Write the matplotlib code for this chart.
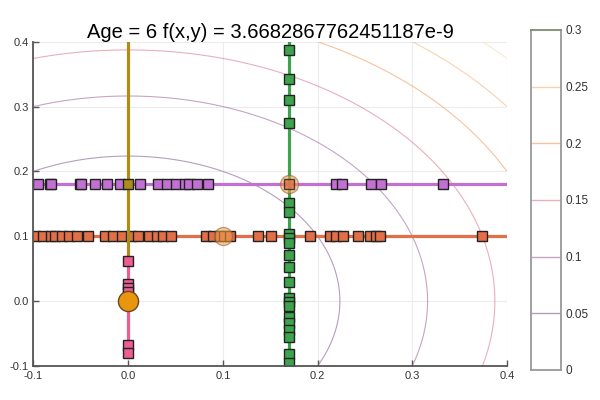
import numpy as np
import matplotlib.pyplot as plt
from matplotlib.ticker import FormatStrFormatter

plt.rcParams['font.family'] = ['Liberation Sans', 'DejaVu Sans']
plt.rcParams['axes.unicode_minus'] = False

title = "Age = 6 f(x,y) = 3.6682867762451187e-9"

# contour levels and their colours (colorbar)
levels = [0.05, 0.1, 0.15, 0.2, 0.25, 0.3]
level_colors = ['#8a5a96', '#a0689c', '#dc7a8c', '#f09a60', '#f4b47c', '#f4dcb0']

# search lines: (fixed coordinate, start, end)
orange_y = 0.1
orange_span = [-0.1, 0.4]
orange_x = [-0.098, -0.090, -0.082, -0.077, -0.070, -0.063, -0.054, -0.042,
            -0.024, -0.016, -0.006, 0.003, 0.010, 0.022, 0.030, 0.037, 0.045,
            0.082, 0.090, 0.097, 0.101, 0.108, 0.137, 0.151, 0.192, 0.213,
            0.219, 0.227, 0.243, 0.255, 0.262, 0.266, 0.374]

purple_y = 0.18
purple_span = [-0.1, 0.4]
purple_x = [-0.095, -0.083, -0.081, -0.051, -0.050, -0.035, -0.022, -0.009,
            0.013, 0.032, 0.041, 0.050, 0.060, 0.064, 0.073, 0.084,
            0.219, 0.226, 0.256, 0.267, 0.333]

green_x = 0.17
green_span = [-0.1, 0.4]
green_y = [0.387, 0.342, 0.310, 0.274, 0.151, 0.138, 0.103, 0.098, 0.090,
           0.071, 0.052, 0.030, 0.005, -0.001, -0.008, -0.024, -0.033,
           -0.045, -0.056, -0.081, -0.095]

gold_x = 0.0
gold_span = [0.068, 0.4]
gold_y = [0.18]

pink_x = 0.0
pink_span = [-0.086, 0.064]
pink_y = [0.062, 0.027, 0.020, 0.014, 0.0, -0.005, -0.068, -0.080]

# current points
best_pt = (0.0, 0.0)
old_pts_x = [0.1, 0.17]
old_pts_y = [0.1, 0.18]
red_sq = (0.17, 0.18)

fig = plt.figure(figsize=(6, 4), dpi=100)
ax = fig.add_axes([0.0558, 0.085, 0.789, 0.8108])

gx = np.linspace(-0.1, 0.4, 300)
gy = np.linspace(-0.1, 0.4, 300)
GX, GY = np.meshgrid(gx, gy)
GZ = GX**2 + GY**2
ax.contour(GX, GY, GZ, levels=levels, colors=level_colors, linewidths=0.8, alpha=0.6)

sq = dict(marker='s', markersize=6.8, markeredgecolor='#222222', markeredgewidth=1.0, linestyle='none')

ax.plot(orange_span, [orange_y, orange_y], color='#e26f46', lw=2.3)
ax.plot(orange_x, [orange_y] * len(orange_x), color='#e26f46', **sq)

ax.plot(purple_span, [purple_y, purple_y], color='#c271d2', lw=2.3)
ax.plot(purple_x, [purple_y] * len(purple_x), color='#c271d2', **sq)

ax.plot([green_x, green_x], green_span, color='#3da44d', lw=2.3)
ax.plot([green_x] * len(green_y), green_y, color='#3da44d', **sq)

ax.plot([gold_x, gold_x], gold_span, color='#ac8d18', lw=2.3)
ax.plot([gold_x] * len(gold_y), gold_y, color='#ac8d18', **sq)

ax.plot([pink_x, pink_x], pink_span, color='#ed5d92', lw=2.3)
ax.plot([pink_x] * len(pink_y), pink_y, color='#ed5d92', **sq)

ax.plot(old_pts_x, old_pts_y, 'o', color='#f4a24a', alpha=0.55, markersize=13,
        markeredgecolor='#9a5a30', markeredgewidth=1.0)
ax.plot([red_sq[0]], [red_sq[1]], color='#e26f46', alpha=0.8, **sq)
ax.plot([best_pt[0]], [best_pt[1]], 'o', color='#e8960e', markersize=14.5,
        markeredgecolor='#6a4a20', markeredgewidth=1.0)

ax.set_xlim(-0.1, 0.4)
ax.set_ylim(-0.1, 0.4)
ax.set_xticks([-0.1, 0.0, 0.1, 0.2, 0.3, 0.4])
ax.set_yticks([-0.1, 0.0, 0.1, 0.2, 0.3, 0.4])
ax.xaxis.set_major_formatter(FormatStrFormatter('%.1f'))
ax.yaxis.set_major_formatter(FormatStrFormatter('%.1f'))
ax.grid(True, color='#ececec', lw=0.8)
ax.set_axisbelow(True)
for s in ['top', 'right']:
    ax.spines[s].set_visible(False)
for s in ['left', 'bottom']:
    ax.spines[s].set_color('#555555')
    ax.spines[s].set_linewidth(1.3)
ax.tick_params(direction='in', length=4, width=1, colors='#555555', labelcolor='#333333', labelsize=8)
ax.set_title(title, fontsize=14.5, pad=1)

cax = fig.add_axes([0.885, 0.075, 0.05, 0.85])
cax.hlines(levels, 0, 1, colors=level_colors, lw=1.0, alpha=0.6)
cax.set_xlim(0, 1)
cax.set_ylim(0, 0.3)
cax.set_xticks([])
cax.yaxis.tick_right()
cax.set_yticks([0, 0.05, 0.1, 0.15, 0.2, 0.25, 0.3])
cax.set_yticklabels(['0', '0.05', '0.1', '0.15', '0.2', '0.25', '0.3'])
cax.tick_params(length=0, labelsize=8.5, labelcolor='#333333', pad=3)
for s in cax.spines.values():
    s.set_color('#999999')
    s.set_linewidth(1.3)
cax.spines['top'].set_color('#7a9070')

fig.savefig('out.png', dpi=100)
